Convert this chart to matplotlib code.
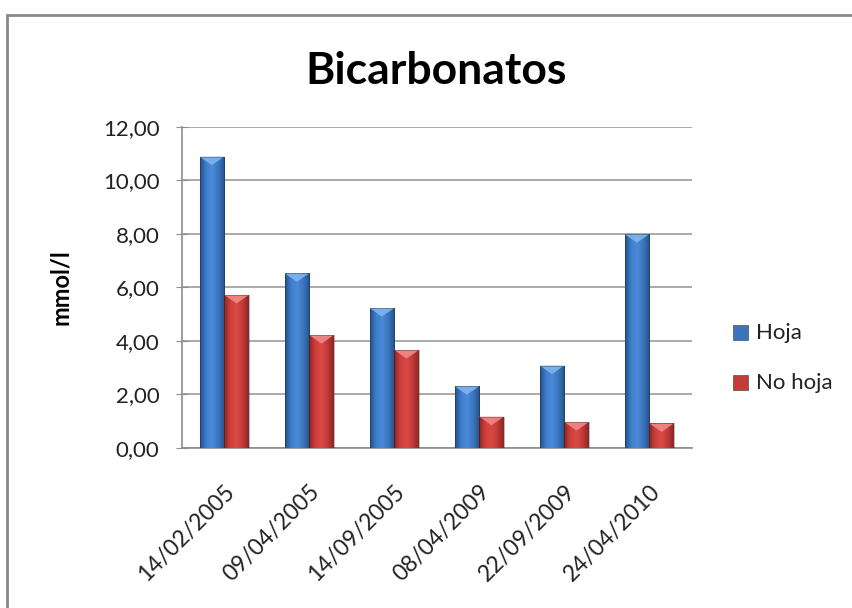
import matplotlib
matplotlib.use("Agg")
import matplotlib.pyplot as plt
import numpy as np
from matplotlib.patches import Rectangle, Polygon
from matplotlib.colors import LinearSegmentedColormap

fechas = ["14/02/2005", "09/04/2005", "14/09/2005", "08/04/2009", "22/09/2009", "24/04/2010"]
hoja = [10.88, 6.52, 5.22, 2.30, 3.07, 7.98]
no_hoja = [5.71, 4.21, 3.65, 1.16, 0.96, 0.91]
series = ["Hoja", "No hoja"]
yticks = [0, 2, 4, 6, 8, 10, 12]

plt.rcParams['font.family'] = ['Lato', 'DejaVu Sans']
txt = '#222222'

fig = plt.figure(figsize=(8.53, 6.08), dpi=100, facecolor='white')
ax = fig.add_axes([0.213, 0.2637, 0.598, 0.528])

# estilo "bisel" tipo Excel 2007
cmaps = {
    "Hoja": LinearSegmentedColormap.from_list("b", ["#24528a", "#3f7fcf", "#4a8ad6", "#3a74bd", "#24528a"]),
    "No hoja": LinearSegmentedColormap.from_list("r", ["#8a2624", "#cf3f3c", "#d84a46", "#c13a37", "#8a2624"]),
}
tops = {"Hoja": "#7fb4ee", "No hoja": "#ef8a86"}
base = {"Hoja": "#3b74bd", "No hoja": "#c23c39"}

x = np.arange(len(fechas))
w = 0.29
grad = np.linspace(0, 1, 64).reshape(1, -1)
for k, (name, vals) in enumerate(zip(series, [hoja, no_hoja])):
    bars = ax.bar(x - w / 2 + k * w, vals, w, color=base[name], edgecolor='none', zorder=3)
    for b in bars:
        x0, y0 = b.get_x(), b.get_y()
        bw, bh = b.get_width(), b.get_height()
        im = ax.imshow(grad, cmap=cmaps[name], aspect='auto', extent=[x0, x0 + bw, y0, y0 + bh],
                       zorder=3.5, interpolation='bicubic')
        im.set_clip_path(b)
        # triangulo claro arriba
        th = 0.32
        tri = Polygon([[x0, y0 + bh], [x0 + bw, y0 + bh], [x0 + bw / 2, y0 + bh - th]],
                      closed=True, facecolor=tops[name], edgecolor='none', zorder=4, alpha=0.9)
        ax.add_patch(tri)
        ax.add_patch(Rectangle((x0, y0), bw, bh, fill=False, edgecolor='#1a1a1a', lw=0.6,
                               alpha=0.35, zorder=4.5))

ax.set_xlim(-0.5, len(fechas) - 0.5)
ax.set_ylim(0, 12)
ax.set_yticks(yticks)
ax.set_yticklabels([("%.2f" % v).replace('.', ',') for v in yticks], fontsize=16, color=txt)
ax.set_xticks(x)
ax.set_xticklabels(fechas, rotation=45, ha='right', va='top', rotation_mode='anchor',
                   fontsize=16.5, color=txt)
ax.tick_params(axis='x', length=0, pad=24)
ax.tick_params(axis='y', length=8, direction='inout', color='#8c8c8c', pad=12)

ax.grid(axis='y', color='#9c9c9c', lw=1.2, zorder=0)
ax.set_axisbelow(True)
for s in ['top', 'right']:
    ax.spines[s].set_visible(False)
for s in ['left', 'bottom']:
    ax.spines[s].set_color('#8c8c8c')
    ax.spines[s].set_linewidth(1.2)

ax.set_ylabel("mmol/l", fontsize=17, fontweight='bold', labelpad=22, color='black')
fig.text(0.511, 0.883, "Bicarbonatos", ha='center', va='center', fontsize=32, fontweight='bold')

# leyenda
for k, name in enumerate(series):
    yy = 0.453 - k * 0.083
    fig.patches.append(Rectangle((733 / 853, yy - 0.012), 15 / 853, 15 / 608, transform=fig.transFigure,
                                 facecolor=base[name], edgecolor='#333333', lw=0.4))
    fig.text(756 / 853, yy, name, ha='left', va='center', fontsize=16, color=txt)

# marco del grafico
fig.patches.append(Rectangle((7 / 853, -0.1), 2, 1.1 - 15 / 608, transform=fig.transFigure,
                             fill=False, edgecolor='#8a8a8a', lw=2))

fig.savefig("out.png", dpi=100, facecolor='white')
